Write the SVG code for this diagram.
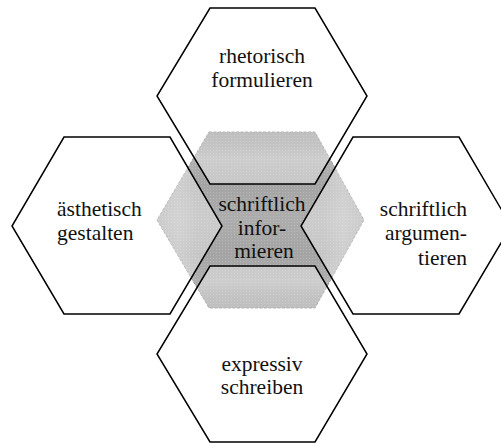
<svg xmlns="http://www.w3.org/2000/svg" width="501" height="443" viewBox="0 0 501 443">
<style>
.outer{fill:#ffffff;fill-opacity:0.38;stroke:#000;stroke-width:1.5;stroke-linejoin:miter}
.core{fill:#a4a4a4;stroke:#8a8a8a;stroke-width:1;stroke-dasharray:3 1.5}
text{font-family:"Liberation Serif","Times New Roman",serif;font-size:21.5px;fill:#111}
.mid{text-anchor:middle}
</style>
<defs>
<linearGradient id="vband" x1="0" y1="0" x2="0" y2="1">
<stop offset="0" stop-color="#000" stop-opacity="0.08"/>
<stop offset="0.15" stop-color="#fff" stop-opacity="0.12"/>
<stop offset="0.3" stop-color="#fff" stop-opacity="0"/>
<stop offset="0.5" stop-color="#fff" stop-opacity="0.1"/>
<stop offset="0.7" stop-color="#fff" stop-opacity="0"/>
<stop offset="0.85" stop-color="#fff" stop-opacity="0.12"/>
<stop offset="1" stop-color="#000" stop-opacity="0.08"/>
</linearGradient>
<linearGradient id="hband" x1="0" y1="0" x2="1" y2="0">
<stop offset="0" stop-color="#fff" stop-opacity="0"/>
<stop offset="0.1" stop-color="#fff" stop-opacity="0.15"/>
<stop offset="0.2" stop-color="#fff" stop-opacity="0"/>
<stop offset="0.8" stop-color="#fff" stop-opacity="0"/>
<stop offset="0.9" stop-color="#fff" stop-opacity="0.15"/>
<stop offset="1" stop-color="#fff" stop-opacity="0"/>
</linearGradient>
<pattern id="dots" width="3" height="3" patternUnits="userSpaceOnUse">
<rect x="0" y="0" width="1" height="1" fill="#fff" fill-opacity="0.18"/>
</pattern>
</defs>
<g id="center-hex">
<polygon class="core" points="209,132 315,132 364,220 315,308 209,308 157,220"/>
<polygon points="209,132 315,132 364,220 315,308 209,308 157,220" fill="url(#vband)"/>
<polygon points="209,132 315,132 364,220 315,308 209,308 157,220" fill="url(#hband)"/>
<polygon points="209,132 315,132 364,220 315,308 209,308 157,220" fill="url(#dots)"/>
</g>
<g id="connectors"></g>
<g id="top-hex">
<polygon class="outer" points="210,8 315,8 367,96 315,184 210,184 157,96"/>
<text class="mid" x="262" y="63">rhetorisch</text>
<text class="mid" x="262" y="87">formulieren</text>
</g>
<g id="left-hex">
<polygon class="outer" points="64,137 170,137 222,226 170,314 64,314 12,226"/>
<text x="57" y="216">ästhetisch</text>
<text x="57" y="240">gestalten</text>
</g>
<g id="right-hex">
<polygon class="outer" points="353,137 459,137 511,226 459,314 353,314 301,226"/>
<text x="467" y="216" text-anchor="end">schriftlich</text>
<text x="467" y="240" text-anchor="end">argumen-</text>
<text x="467" y="265" text-anchor="end">tieren</text>
</g>
<g id="bottom-hex">
<polygon class="outer" points="210,266 315,266 367,354 315,442 210,442 157,354"/>
<text class="mid" x="262" y="371">expressiv</text>
<text class="mid" x="262" y="394">schreiben</text>
</g>
<g id="center-label">
<text class="mid" x="262" y="211">schriftlich</text>
<text class="mid" x="262" y="235">infor-</text>
<text class="mid" x="264" y="258">mieren</text>
</g>
</svg>
